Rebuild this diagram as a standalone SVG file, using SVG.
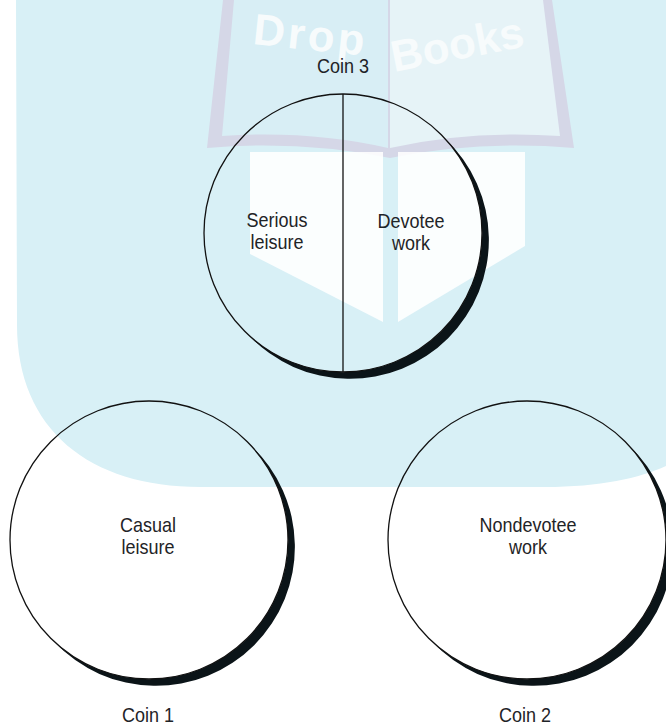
<svg xmlns="http://www.w3.org/2000/svg" width="666" height="725" viewBox="0 0 666 725">
<style>
.bg{fill:#d8f0f6}
.cover{fill:#d5d7e7}
.pageL{fill:#d8eef5}
.pageR{fill:#e6f3f7}
.sheet{fill:#ffffff;opacity:0.88}
.wm{font-family:"Liberation Sans",Arial,sans-serif;font-weight:bold;font-size:44px;fill:#f7fbfc}
.rim{fill:none;stroke:#111;stroke-width:1.3}
.divider{stroke:#111;stroke-width:1.3}
.shadow{fill:#0b1418}
.lbl{font-family:"Liberation Sans",Arial,sans-serif;font-size:20px;fill:#1f2427;text-anchor:middle}
</style>
<defs>
<path id="crescent" d="M101.73,-94.73 A139,139 0 1 1 -94.73,101.73 A139,139 0 0 0 101.73,-94.73 Z"/>
</defs>

<g id="watermark">
<path class="bg" d="M16,0 L17,325 C17,430 90,487 200,487 L545,487 C600,487 640,478 666,466 L666,0 Z"/>
<path class="cover" d="M223,0 L207,148 Q300,140 390,158 Q480,140 574,148 L552,0 Z"/>
<path class="pageL" d="M234,0 L222,136 Q310,130 388,148 L388,0 Z"/>
<path class="pageR" d="M390,0 L390,148 Q470,130 560,136 L543,0 Z"/>
<path class="sheet" d="M250,152 L383,152 L383,322 L250,254 Z"/>
<path class="sheet" d="M398,152 L525,152 L525,246 L398,322 Z"/>
<text class="wm" transform="translate(252,44) rotate(6)" letter-spacing="3">Drop</text>
<text class="wm" transform="translate(394,72) rotate(-11)">Books</text>
</g>

<g id="connectors"/>

<g id="coin3">
<use href="#crescent" class="shadow" x="343" y="233"/>
<circle class="rim" cx="343" cy="233" r="139"/>
<line class="divider" x1="343" y1="94" x2="343" y2="372"/>
<text class="lbl" transform="translate(343,73) scale(0.9,1)">Coin 3</text>
<text class="lbl" transform="translate(277,227) scale(0.9,1)"><tspan x="0">Serious</tspan><tspan x="0" dy="22.5">leisure</tspan></text>
<text class="lbl" transform="translate(411,228) scale(0.9,1)"><tspan x="0">Devotee</tspan><tspan x="0" dy="22.5">work</tspan></text>
</g>

<g id="coin1">
<use href="#crescent" class="shadow" x="149" y="540"/>
<circle class="rim" cx="149" cy="540" r="139"/>
<text class="lbl" transform="translate(148,532) scale(0.9,1)"><tspan x="0">Casual</tspan><tspan x="0" dy="22.5">leisure</tspan></text>
<text class="lbl" transform="translate(148,722) scale(0.9,1)">Coin 1</text>
</g>

<g id="coin2">
<use href="#crescent" class="shadow" x="527" y="540"/>
<circle class="rim" cx="527" cy="540" r="139"/>
<text class="lbl" transform="translate(528,532) scale(0.9,1)"><tspan x="0">Nondevotee</tspan><tspan x="0" dy="22.5">work</tspan></text>
<text class="lbl" transform="translate(525,722) scale(0.9,1)">Coin 2</text>
</g>
</svg>
